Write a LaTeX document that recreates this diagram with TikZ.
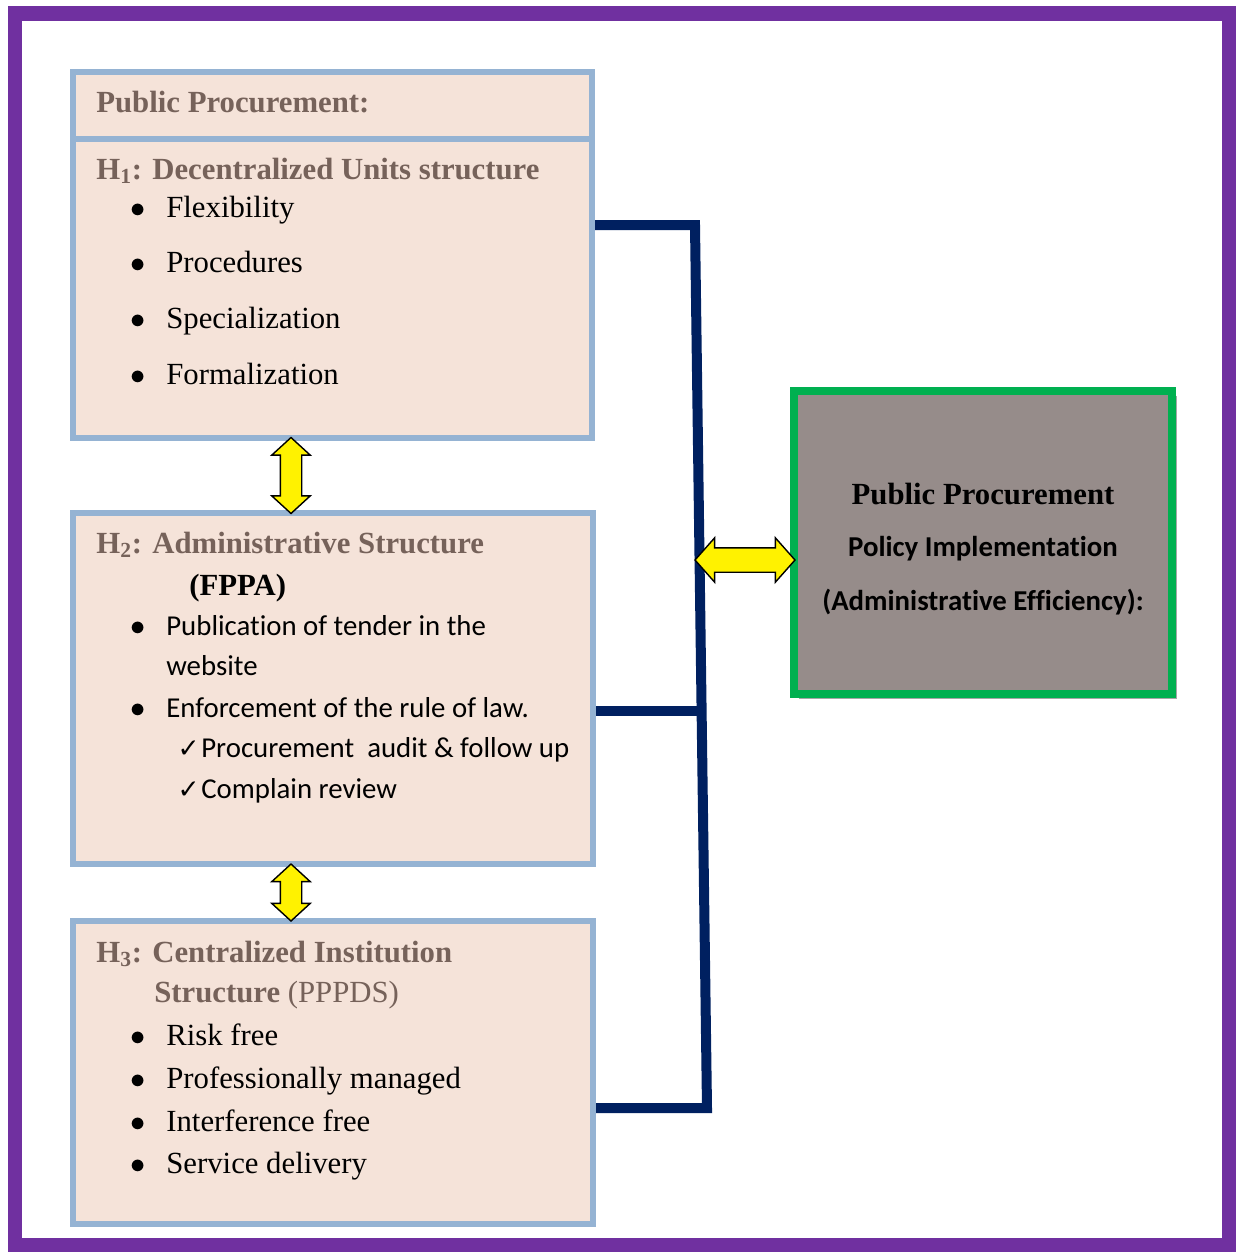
\documentclass[tikz,border=0pt]{standalone}
\usepackage{fontspec}
\setmainfont{Liberation Serif}
\setsansfont{Carlito}[Ligatures=NoCommon]
\newfontfamily\checkfont{DejaVu Sans}
\usetikzlibrary{shapes.arrows, positioning, calc, fit, shadows}
\definecolor{FramePurple}{HTML}{7030A0}
\definecolor{BoxPeach}{HTML}{F5E3D9}
\definecolor{BoxBlue}{HTML}{95B3D3}
\definecolor{HeadBrown}{HTML}{76625A}
\definecolor{LinkNavy}{HTML}{002060}
\definecolor{GoalGreen}{HTML}{00B050}
\definecolor{GoalGrey}{HTML}{968C8A}
\newcommand\boxfont{\fontsize{17.5}{21}\selectfont}
\newcommand\cfont{\sffamily\fontsize{16.4}{21}\selectfont}
\newcommand\dotmark{\llap{$\bullet$\hspace{12pt}}}
\newcommand\tickmark{\llap{{\checkfont\fontsize{15}{15}\selectfont ✓}\hspace{1pt}}}
\tikzset{
    % Outer frame
    frame/.style={
        draw=FramePurple,
        line width=0.3cm
    },
    % Hypothesis box
    hypbox/.style={
        rectangle,
        draw=BoxBlue,
        fill=BoxPeach,
        line width=0.12cm,
        inner sep=0pt
    },
    % Outcome box
    goal/.style={
        rectangle,
        draw=GoalGreen,
        fill=GoalGrey,
        line width=0.16cm,
        inner sep=0pt,
        drop shadow={shadow xshift=0.09cm, shadow yshift=-0.1cm, fill=gray!70, opacity=1}
    },
    % Box heading
    heading/.style={
        anchor=base west,
        inner sep=0pt,
        text=HeadBrown,
        font=\boxfont\bfseries
    },
    % Serif list entry
    listitem/.style={
        anchor=base west,
        inner sep=0pt,
        font=\boxfont
    },
    % Sans list entry
    sitem/.style={
        anchor=base west,
        inner sep=0pt,
        font=\cfont
    },
    % Connector bus
    bus/.style={
        draw=LinkNavy,
        line width=0.2cm
    },
    % Yellow block arrow
    dblarrow/.style={
        double arrow,
        draw=black,
        fill=yellow,
        line width=0.8pt,
        inner xsep=0pt,
        double arrow head indent=0pt
    }
}

\begin{document}
\begin{tikzpicture}[x=0.02cm, y=-0.02cm]
        \useasboundingbox (0,0) rectangle (1236,1252);
        \draw[frame] (15,13) rectangle (1229,1245);

        % Boxes
        \node[hypbox, fit={(73,72) (592,139)}] (pp) {};
        \node[hypbox, fit={(73,139) (592,438)}] (dec) {};
        \node[hypbox, fit={(73,513) (593,864)}] (adm) {};
        \node[hypbox, fit={(73,921) (593,1224)}] (cen) {};
        \node[goal, fit={(794,391) (1172,694)}] (eff) {};

        % H1
        \node[heading] (ppt) at (96,112) {Public Procurement:};
        \node[heading] (h1) at (96,179) {H\textsubscript{1}: Decentralized Units structure};
        \foreach \y/\t [count=\i] in {217/Flexibility, 272/Procedures, 328/Specialization, 384/Formalization}
            \node[listitem] (d\i) at (166,\y) {\dotmark\t};

        % H2
        \node[heading] (h2) at (96,553) {H\textsubscript{2}: Administrative Structure};
        \node[listitem, font=\boxfont\bfseries] (fppa) at (189,595) {(FPPA)};
        \node[sitem] (a1) at (166,635) {\dotmark Publication of tender in the};
        \node[sitem] (a1b) at (166,675) {website};
        \node[sitem] (a2) at (166,717) {\dotmark Enforcement of the rule of law.};
        \node[sitem] (a3) at (201,757) {\tickmark Procurement\ \ audit \& follow up};
        \node[sitem] (a4) at (201,798) {\tickmark Complain review};

        % H3
        \node[heading] (h3) at (96,962) {H\textsubscript{3}: Centralized Institution};
        \node[heading] (h3b) at (154,1002) {Structure {\mdseries (PPPDS)}};
        \foreach \y/\t [count=\i] in {1045/Risk free, 1088/Professionally managed, 1131/Interference free, 1173/Service delivery}
            \node[listitem] (c\i) at (166,\y) {\dotmark\t};

        % Outcome
        \node[anchor=base, font=\boxfont\bfseries] (g1) at (983,504) {Public Procurement};
        \node[anchor=base, font=\cfont\bfseries] (g2) at (983,556) {Policy Implementation};
        \node[anchor=base, font=\cfont\bfseries] (g3) at (983,610) {(Administrative Efficiency):};

        % Bus
        \coordinate (jtop) at (695,225);
        \coordinate (jbot) at (707,1108);
        \coordinate (jmid) at ($(jtop)!0.55!(jbot)$);
        \draw[bus] (dec.east |- jtop) -- (jtop) -- (jbot) -- (cen.east |- jbot);
        \draw[bus] (adm.east |- jmid) -- (jmid);

        % Arrows
        \node[dblarrow, rotate=90, minimum height=1.52cm, inner ysep=0.2cm,
              double arrow head extend=0.17cm, double arrow tip angle=95] (ar1) at (291,475.5) {};
        \node[dblarrow, rotate=90, minimum height=1.14cm, inner ysep=0.2cm,
              double arrow head extend=0.17cm, double arrow tip angle=95] (ar2) at (291,892.5) {};
        \node[dblarrow, minimum height=2cm, inner ysep=0.23cm,
              double arrow head extend=0.2cm, double arrow tip angle=97] (ar3) at (745,560) {};
    \end{tikzpicture}
\end{document}
